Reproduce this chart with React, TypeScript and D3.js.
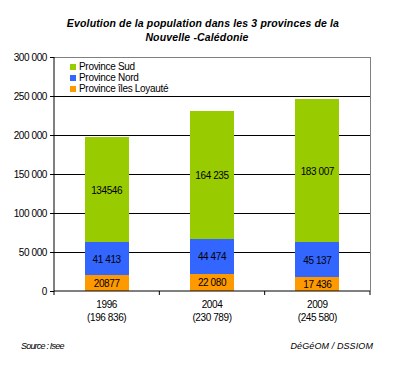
import React, { useEffect, useRef } from 'react'
import * as d3 from 'd3'

const years = ['1996', '2004', '2009']
const totals = ['(196 836)', '(230 789)', '(245 580)']
const loyaute = [20877, 22080, 17436]
const nord = [41413, 44474, 45137]
const sud = [134546, 164235, 183007]
const loyauteLabels = ['20877', '22 080', '17 436']
const nordLabels = ['41 413', '44 474', '45 137']
const sudLabels = ['134546', '164 235', '183 007']
const yTicks = [0, 50000, 100000, 150000, 200000, 250000, 300000]

const series = [
  { name: 'Province Sud', color: '#99CC00' },
  { name: 'Province Nord', color: '#3366FF' },
  { name: 'Province îles Loyauté', color: '#FF9900' },
]

const W = 406
const H = 365
const font = '"Liberation Sans", Arial, sans-serif'

export default function App() {
  const ref = useRef<SVGSVGElement | null>(null)

  useEffect(() => {
    const svg = d3.select(ref.current)
    svg.selectAll('*').remove()
    const left = 54, right = 370, top = 57, bottom = 291

    const x = d3.scaleBand().domain(years).range([left, right])
    const y = d3.scaleLinear().domain([0, 300000]).range([bottom, top])
    const bw = 44

    svg.append('rect').attr('width', W).attr('height', H).attr('fill', '#fff')

    // title
    const title = svg.append('text')
      .attr('text-anchor', 'middle')
      .style('font-family', font).style('font-size', '10.5px')
      .style('font-weight', 'bold').style('font-style', 'italic')
      .style('letter-spacing', '0.15px')
    title.append('tspan').attr('x', 203).attr('y', 27).text('Evolution de la population dans les 3 provinces de la')
    title.append('tspan').attr('x', 197).attr('y', 41).text('Nouvelle -Calédonie')

    // gridlines
    svg.append('g').selectAll('line').data(yTicks.filter(t => t > 0 && t < 300000)).enter()
      .append('line')
      .attr('x1', left).attr('x2', right)
      .attr('y1', d => y(d)).attr('y2', d => y(d))
      .attr('stroke', '#000').attr('stroke-width', 1)
      .attr('shape-rendering', 'crispEdges')

    // plot border top/right
    svg.append('path')
      .attr('d', `M${left},${top}H${right}V${bottom}`)
      .attr('fill', 'none').attr('stroke', '#808080')
      .attr('shape-rendering', 'crispEdges')

    // stacked bars
    const stacked = [loyaute, nord, sud]
    const colors = ['#FF9900', '#3366FF', '#99CC00']
    const labels = [loyauteLabels, nordLabels, sudLabels]
    years.forEach((yr, i) => {
      let base = 0
      stacked.forEach((vals, s) => {
        const v = vals[i]
        const cx = (x(yr) as number) + x.bandwidth() / 2
        svg.append('rect')
          .attr('x', cx - bw / 2).attr('width', bw)
          .attr('y', y(base + v)).attr('height', y(base) - y(base + v))
          .attr('fill', colors[s])
          .attr('shape-rendering', 'crispEdges')
        svg.append('text')
          .attr('x', cx).attr('y', (y(base) + y(base + v)) / 2 + 4)
          .attr('text-anchor', 'middle')
          .style('font-family', font).style('font-size', '10px')
          .style('letter-spacing', '-0.4px')
          .text(labels[s][i])
        base += v
      })
    })

    // y axis
    const ya = svg.append('g').attr('transform', `translate(${left},0)`)
      .call(d3.axisLeft(y).tickValues(yTicks).tickSize(4).tickPadding(3)
        .tickFormat(d => d3.format(',')(d as number).replace(/,/g, ' ')))
    ya.select('.domain').remove()
    ya.append('line').attr('y1', top).attr('y2', bottom).attr('stroke', '#000')
    ya.selectAll('text').style('font-family', font).style('font-size', '10px').style('letter-spacing', '-0.4px').attr('fill', '#000')

    // x axis
    const xa = svg.append('g').attr('transform', `translate(0,${bottom})`)
    xa.append('line').attr('x1', left).attr('x2', right).attr('stroke', '#000')
    const bounds = [left, ...years.map(yr => (x(yr) as number) + x.bandwidth())]
    xa.selectAll('.tk').data(bounds).enter().append('line')
      .attr('x1', d => d).attr('x2', d => d).attr('y1', 0).attr('y2', 4)
      .attr('stroke', '#000')
    years.forEach((yr, i) => {
      const cx = (x(yr) as number) + x.bandwidth() / 2
      const t = xa.append('text').attr('text-anchor', 'middle')
        .style('font-family', font).style('font-size', '10px').style('letter-spacing', '-0.4px')
      t.append('tspan').attr('x', cx).attr('y', 17).text(yr)
      t.append('tspan').attr('x', cx).attr('y', 30).text(totals[i])
    })

    // legend
    const lg = svg.append('g').attr('transform', 'translate(70,64)')
    series.forEach((s, i) => {
      lg.append('rect').attr('x', 0).attr('y', i * 11).attr('width', 6).attr('height', 6).attr('fill', s.color)
      lg.append('text').attr('x', 9).attr('y', i * 11 + 6)
        .style('font-family', font).style('font-size', '10px').style('letter-spacing', '-0.3px')
        .text(s.name)
    })

    // footer
    svg.append('text').attr('x', 21).attr('y', 349)
      .style('font-family', font).style('font-size', '9px').style('font-style', 'italic').style('letter-spacing', '-0.8px')
      .text('Source : Isee')
    svg.append('text').attr('x', 373).attr('y', 349).attr('text-anchor', 'end')
      .style('font-family', font).style('font-size', '9px').style('font-style', 'italic').style('letter-spacing', '0.1px')
      .text('DéGéOM / DSSIOM')
  }, [])

  return (
    <svg ref={ref} width={W} height={H}
      style={{ position: 'absolute', left: 0, top: 0, display: 'block' }} />
  )
}
